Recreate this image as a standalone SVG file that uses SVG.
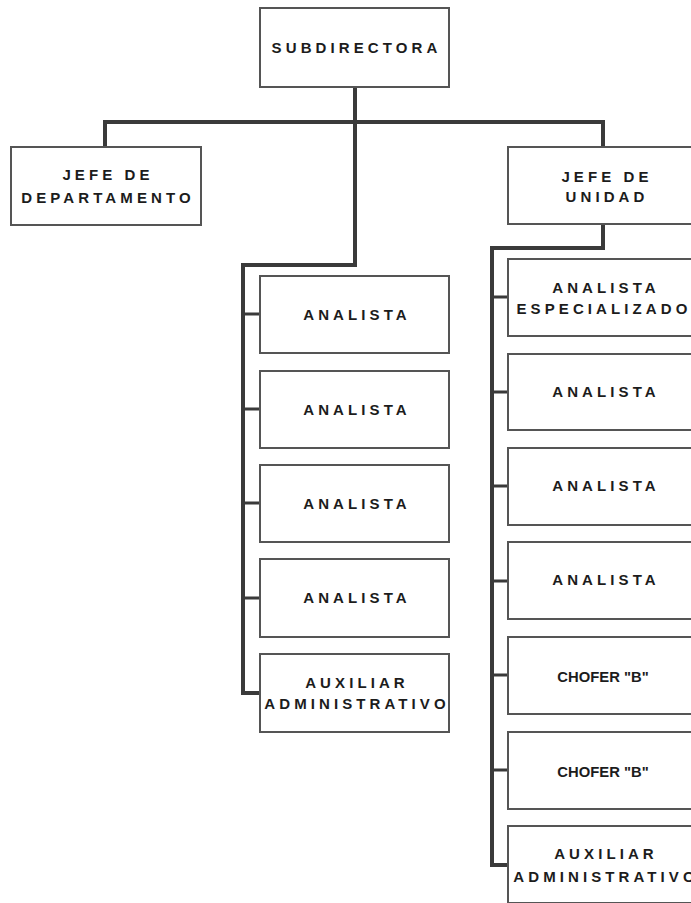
<svg xmlns="http://www.w3.org/2000/svg" width="691" height="903" viewBox="0 0 691 903">
<style>
.box{fill:#fff;stroke:#555;stroke-width:2}
.t{font-family:"Liberation Sans",Arial,sans-serif;font-weight:bold;font-size:15px;fill:#1c1c1c;letter-spacing:4.1px;text-anchor:middle}
.c{font-family:"Liberation Sans",Arial,sans-serif;font-weight:bold;font-size:14.8px;fill:#1c1c1c;text-anchor:middle}
.ln{fill:none;stroke:#3a3a3a;stroke-width:4;stroke-linejoin:miter}
.br{fill:none;stroke:#3a3a3a;stroke-width:3}
</style>
<rect width="691" height="903" fill="#fff"/>
<g id="connectors">
<path class="ln" d="M355 87 V122 M105 147 V122 H603 V147 M355 122 V265 H243 V693 H260"/>
<path class="ln" d="M603 224 V248 H492 V865 H508"/>
<path class="br" d="M243 314 H260 M243 409 H260 M243 503 H260 M243 598 H260"/>
<path class="br" d="M492 297 H508 M492 392 H508 M492 486 H508 M492 581 H508 M492 675 H508 M492 770 H508"/>
</g>
<g id="subdirectora"><rect class="box" x="260" y="8" width="189" height="79"/><text class="t" x="356.5" y="53">SUBDIRECTORA</text></g>
<g id="jefe-departamento"><rect class="box" x="11" y="147" width="190" height="78"/><text class="t" x="108" y="180">JEFE DE</text><text class="t" x="108" y="203">DEPARTAMENTO</text></g>
<g id="jefe-unidad"><rect class="box" x="508" y="147" width="194" height="77"/><text class="t" x="607" y="182">JEFE DE</text><text class="t" x="607" y="202">UNIDAD</text></g>
<g id="l-analista-1"><rect class="box" x="260" y="276" width="189" height="77"/><text class="t" x="357" y="320">ANALISTA</text></g>
<g id="l-analista-2"><rect class="box" x="260" y="371" width="189" height="77"/><text class="t" x="357" y="415">ANALISTA</text></g>
<g id="l-analista-3"><rect class="box" x="260" y="465" width="189" height="77"/><text class="t" x="357" y="509">ANALISTA</text></g>
<g id="l-analista-4"><rect class="box" x="260" y="559" width="189" height="78"/><text class="t" x="357" y="603">ANALISTA</text></g>
<g id="l-auxiliar"><rect class="box" x="260" y="654" width="189" height="78"/><text class="t" x="357" y="688">AUXILIAR</text><text class="t" x="357" y="709">ADMINISTRATIVO</text></g>
<g id="r-analista-esp"><rect class="box" x="508" y="259" width="194" height="77"/><text class="t" x="606" y="293">ANALISTA</text><text class="t" x="604" y="314">ESPECIALIZADO</text></g>
<g id="r-analista-1"><rect class="box" x="508" y="354" width="194" height="76"/><text class="t" x="606" y="397">ANALISTA</text></g>
<g id="r-analista-2"><rect class="box" x="508" y="448" width="194" height="77"/><text class="t" x="606" y="491">ANALISTA</text></g>
<g id="r-analista-3"><rect class="box" x="508" y="542" width="194" height="77"/><text class="t" x="606" y="585">ANALISTA</text></g>
<g id="r-chofer-1"><rect class="box" x="508" y="637" width="194" height="77"/><text class="c" x="603" y="682">CHOFER "B"</text></g>
<g id="r-chofer-2"><rect class="box" x="508" y="732" width="194" height="77"/><text class="c" x="603" y="777">CHOFER "B"</text></g>
<g id="r-auxiliar"><rect class="box" x="508" y="826" width="194" height="77"/><text class="t" x="606" y="859">AUXILIAR</text><text class="t" x="606" y="882">ADMINISTRATIVO</text></g>
</svg>
